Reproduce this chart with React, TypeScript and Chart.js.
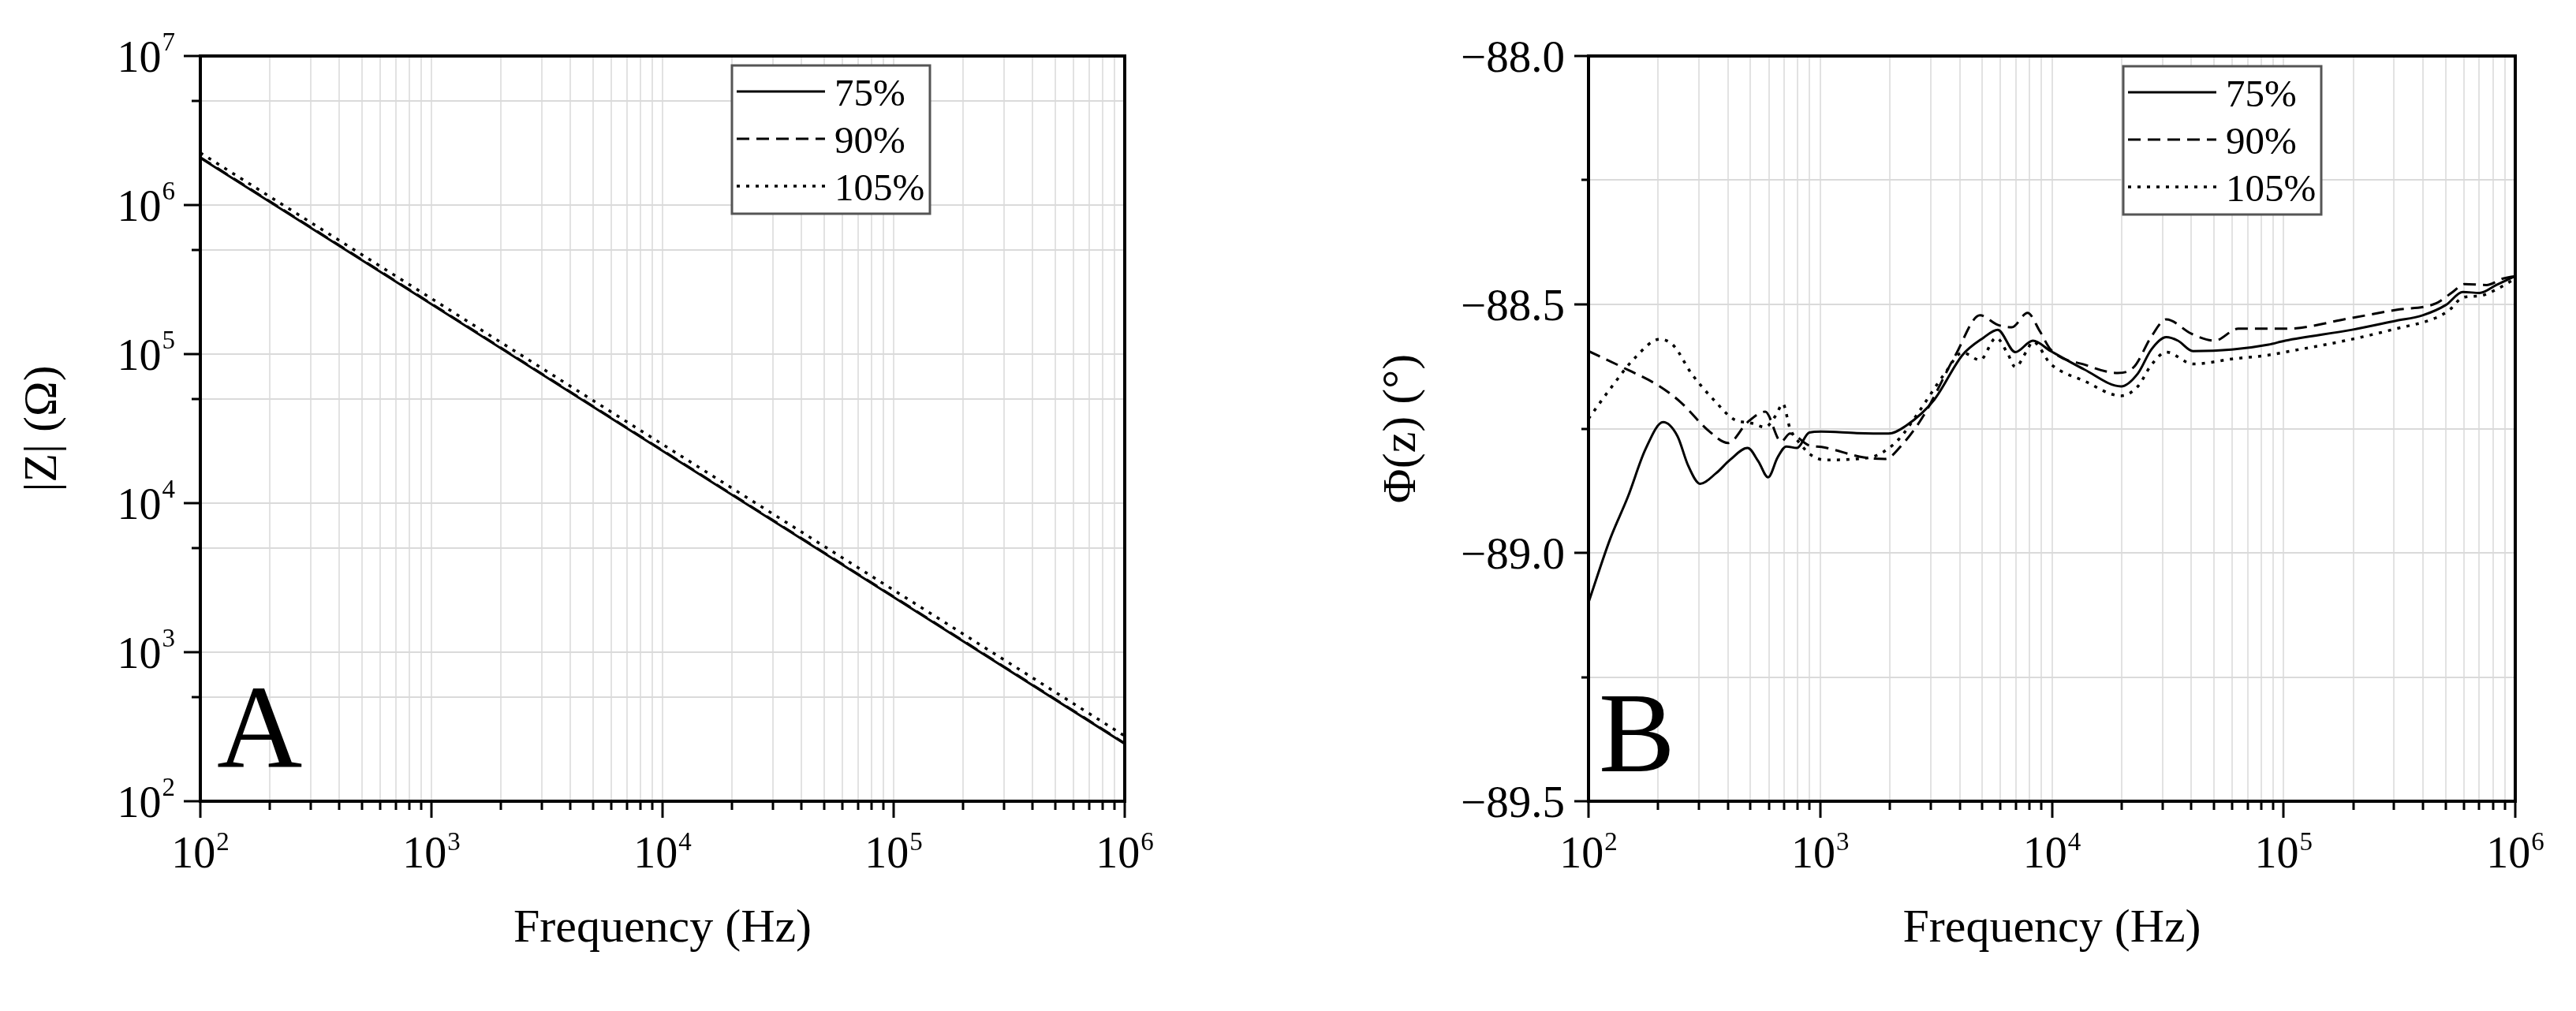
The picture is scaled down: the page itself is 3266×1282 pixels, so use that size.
import React, { useEffect, useRef } from "react";
import { Chart, registerables } from "chart.js";

Chart.register(...registerables);

const SERIF = "'Liberation Serif', 'Times New Roman', Times, serif";

// ---------------- Series labels ----------------
const SERIES_LABELS = ["75%", "90%", "105%"];

// ---------------- Panel A : |Z| vs frequency ----------------
const Z_FREQ = [100, 1000, 10000, 100000, 1000000];
const Z_75 = [2.07e6, 2.16e5, 2.24e4, 2.34e3, 243];
const Z_90 = [2.09e6, 2.18e5, 2.26e4, 2.36e3, 245];
const Z_105 = [2.24e6, 2.36e5, 2.48e4, 2.61e3, 274];

// ---------------- Panel B : phase vs frequency ----------------
const P75_FREQ = [100, 124, 148, 176, 210, 242, 269, 303, 355, 408, 486, 541, 596, 655, 714, 794, 897, 1014, 1439, 1972, 2350, 3105, 4111, 5070, 5834, 6950, 8279, 9886, 13800, 19910, 23500, 26850, 31190, 34990, 40640, 59700, 86100, 101600, 197700, 305500, 398100, 502300, 594300, 701500, 827900, 1000000];
const P75 = [-89.10, -88.972, -88.887, -88.792, -88.737, -88.765, -88.824, -88.861, -88.840, -88.813, -88.789, -88.816, -88.848, -88.808, -88.786, -88.789, -88.758, -88.756, -88.759, -88.760, -88.744, -88.692, -88.602, -88.567, -88.551, -88.596, -88.573, -88.594, -88.631, -88.665, -88.639, -88.591, -88.566, -88.573, -88.594, -88.591, -88.581, -88.573, -88.551, -88.533, -88.522, -88.501, -88.475, -88.477, -88.461, -88.443];

const P90_FREQ = [100, 138, 203, 250, 331, 401, 486, 579, 678, 741, 897, 1014, 1542, 1905, 2270, 2800, 3837, 4898, 5834, 6714, 7852, 8872, 9886, 14000, 19230, 22700, 26850, 31190, 40000, 50470, 63680, 101600, 197700, 305500, 455000, 537000, 604000, 750000, 885000, 1000000];
const P90 = [-88.594, -88.625, -88.665, -88.697, -88.755, -88.779, -88.737, -88.716, -88.776, -88.760, -88.784, -88.787, -88.808, -88.811, -88.781, -88.723, -88.602, -88.522, -88.541, -88.546, -88.517, -88.554, -88.591, -88.622, -88.638, -88.625, -88.565, -88.530, -88.559, -88.573, -88.549, -88.549, -88.527, -88.511, -88.498, -88.475, -88.459, -88.461, -88.448, -88.443];

const P105_FREQ = [100, 124, 159, 203, 233, 278, 355, 423, 504, 579, 644, 690, 740, 822, 912, 1050, 1439, 1774, 2188, 2606, 3451, 4111, 4898, 5754, 6457, 6950, 7762, 8279, 9886, 13800, 19910, 23500, 26850, 31190, 40640, 59700, 86100, 101600, 197700, 305500, 455000, 520000, 594300, 701500, 827900, 1000000];
const P105 = [-88.73, -88.670, -88.607, -88.570, -88.583, -88.639, -88.697, -88.731, -88.739, -88.747, -88.723, -88.700, -88.749, -88.781, -88.803, -88.813, -88.811, -88.803, -88.771, -88.723, -88.639, -88.597, -88.612, -88.567, -88.600, -88.626, -88.595, -88.575, -88.620, -88.654, -88.684, -88.665, -88.622, -88.596, -88.620, -88.610, -88.602, -88.596, -88.570, -88.549, -88.527, -88.511, -88.486, -88.483, -88.470, -88.448];

// ---------------- Axis ticks ----------------
const X_DECADES = [100, 1000, 10000, 100000, 1000000];
const X_EXPONENTS = ["2", "3", "4", "5", "6"];
const X_MULTIPLIERS = [1, 2, 3, 4, 5, 6, 7, 8, 9];
const Z_DECADES = [100, 1000, 10000, 100000, 1000000, 10000000];
const Z_EXPONENTS = ["2", "3", "4", "5", "6", "7"];
const Z_MULTIPLIERS = [1, 5];
const PHASE_MAJOR = [-88.0, -88.5, -89.0, -89.5];
const PHASE_LABELS = ["\u221288.0", "\u221288.5", "\u221289.0", "\u221289.5"];
const PHASE_MINOR = [-88.25, -88.75, -89.25];

// ---------------- Line styles ----------------
const LINE_DASHES = [[], [16, 9], [4, 8]];
const LINE_WIDTHS = [3, 3, 3.5];

const X_GRID = X_DECADES.flatMap((d) => X_MULTIPLIERS.map((m) => m * d)).filter((v) => v <= 1000000);
const Z_GRID = Z_DECADES.flatMap((d) => Z_MULTIPLIERS.map((m) => m * d)).filter((v) => v <= 10000000);

type Label = { value: number; main: string; sup?: string };

const X_LABELS: Label[] = X_DECADES.map((v, i) => ({ value: v, main: "10", sup: X_EXPONENTS[i] }));
const Z_LABELS: Label[] = Z_DECADES.map((v, i) => ({ value: v, main: "10", sup: Z_EXPONENTS[i] }));
const P_LABELS: Label[] = PHASE_MAJOR.map((v, i) => ({ value: v, main: PHASE_LABELS[i] }));

function near(arr: number[], v: number) {
  return arr.some((m) => Math.abs(m - v) < 1e-9 * Math.max(1, Math.abs(m)));
}

function makeDecor(o: any) {
  return {
    id: "decor",
    afterDraw(chart: any) {
      const ctx = chart.ctx;
      const a = chart.chartArea;
      const xs = chart.scales.x;
      const ys = chart.scales.y;
      ctx.save();
      ctx.strokeStyle = "#000";
      ctx.fillStyle = "#000";
      ctx.setLineDash([]);
      ctx.lineWidth = 3;
      for (const t of xs.ticks) {
        const px = Math.round(xs.getPixelForValue(t.value));
        const len = near(o.xMajor, t.value) ? 21 : 11;
        ctx.beginPath();
        ctx.moveTo(px, a.bottom);
        ctx.lineTo(px, a.bottom + len);
        ctx.stroke();
      }
      for (const t of ys.ticks) {
        const py = Math.round(ys.getPixelForValue(t.value));
        const len = near(o.yMajor, t.value) ? o.yMajorLen : o.yMinorLen;
        ctx.beginPath();
        ctx.moveTo(a.left, py);
        ctx.lineTo(a.left - len, py);
        ctx.stroke();
      }
      // frame
      ctx.lineWidth = 4;
      ctx.strokeRect(a.left, a.top, a.right - a.left, a.bottom - a.top);

      // x tick labels
      ctx.textBaseline = "alphabetic";
      for (const l of o.xLabels as Label[]) {
        const px = xs.getPixelForValue(l.value);
        ctx.font = `56px ${SERIF}`;
        const wm = ctx.measureText(l.main).width;
        ctx.font = `33px ${SERIF}`;
        const ws = l.sup ? ctx.measureText(l.sup).width + 1 : 0;
        const x0 = px - (wm + ws) / 2;
        ctx.textAlign = "left";
        ctx.font = `56px ${SERIF}`;
        ctx.fillText(l.main, x0, a.bottom + 84);
        if (l.sup) {
          ctx.font = `33px ${SERIF}`;
          ctx.fillText(l.sup, x0 + wm + 1, a.bottom + 62);
        }
      }
      // y tick labels
      for (const l of o.yLabels as Label[]) {
        const py = ys.getPixelForValue(l.value);
        const xr = a.left - o.yLabelGap;
        ctx.textAlign = "right";
        if (l.sup) {
          ctx.font = `33px ${SERIF}`;
          const ws = ctx.measureText(l.sup).width;
          ctx.fillText(l.sup, xr, py - 7);
          ctx.font = `${o.yFont}px ${SERIF}`;
          ctx.fillText(l.main, xr - ws - 1, py + 20);
        } else {
          ctx.font = `${o.yFont}px ${SERIF}`;
          ctx.fillText(l.main, xr, py + 20);
        }
      }
      // panel letter
      ctx.textAlign = "left";
      ctx.font = `${o.letterSize}px ${SERIF}`;
      ctx.fillText(o.letter, a.left + o.letterDx, a.bottom - o.letterDy);

      // legend
      const bx = a.left + o.legendDx;
      const by = a.top + o.legendDy;
      const bw = 251;
      const bh = 188;
      ctx.fillStyle = "#fff";
      ctx.fillRect(bx, by, bw, bh);
      ctx.strokeStyle = "#555";
      ctx.lineWidth = 3;
      ctx.strokeRect(bx, by, bw, bh);
      chart.data.datasets.forEach((ds: any, i: number) => {
        const ly = by + 33 + i * 60;
        ctx.strokeStyle = "#000";
        ctx.lineWidth = ds.borderWidth;
        ctx.setLineDash(ds.borderDash || []);
        ctx.beginPath();
        ctx.moveTo(bx + 6, ly);
        ctx.lineTo(bx + 118, ly);
        ctx.stroke();
        ctx.setLineDash([]);
        ctx.fillStyle = "#000";
        ctx.font = `49px ${SERIF}`;
        ctx.textAlign = "left";
        ctx.fillText(ds.label, bx + 130, by + 51 + i * 60);
      });
      ctx.restore();
    },
  };
}

function series(freq: number[], vals: number[], i: number, smooth: boolean) {
  return {
    label: SERIES_LABELS[i],
    data: freq.map((f, k) => ({ x: f, y: vals[k] })),
    borderColor: "#000",
    backgroundColor: "#000",
    borderWidth: LINE_WIDTHS[i],
    borderDash: LINE_DASHES[i],
    borderCapStyle: "butt",
    pointRadius: 0,
    fill: false,
    tension: smooth ? 0.4 : 0,
    cubicInterpolationMode: smooth ? "monotone" : "default",
  };
}

function xScale() {
  return {
    type: "logarithmic",
    position: "bottom",
    min: 100,
    max: 1000000,
    afterBuildTicks: (s: any) => {
      s.ticks = X_GRID.map((v) => ({ value: v }));
    },
    afterFit: (s: any) => {
      s.height = 266;
    },
    ticks: { display: false },
    grid: { color: "#e2e2e2", lineWidth: 2, drawTicks: false },
    border: { display: false },
    title: {
      display: true,
      text: "Frequency (Hz)",
      color: "#000",
      font: { family: SERIF, size: 60 },
      padding: { top: 0, bottom: 68 },
    },
  };
}

function configA(): any {
  return {
    type: "line",
    data: {
      datasets: [
        series(Z_FREQ, Z_75, 0, false),
        series(Z_FREQ, Z_90, 1, false),
        series(Z_FREQ, Z_105, 2, false),
      ],
    },
    options: {
      responsive: false,
      animation: false,
      devicePixelRatio: 1,
      events: [],
      layout: { autoPadding: false, padding: { left: 0, top: 71, right: 207, bottom: 0 } },
      plugins: { legend: { display: false }, tooltip: { enabled: false }, title: { display: false } },
      scales: {
        x: xScale(),
        y: {
          type: "logarithmic",
          position: "left",
          min: 100,
          max: 10000000,
          afterBuildTicks: (s: any) => {
            s.ticks = Z_GRID.map((v) => ({ value: v }));
          },
          afterFit: (s: any) => {
            s.width = 254;
          },
          ticks: { display: false },
          grid: { color: "#dadada", lineWidth: 2, drawTicks: false },
          border: { display: false },
          title: {
            display: true,
            text: "|Z| (\u03A9)",
            color: "#000",
            font: { family: SERIF, size: 60 },
            padding: { top: 19, bottom: 0 },
          },
        },
      },
    },
    plugins: [
      makeDecor({
        xMajor: X_DECADES,
        yMajor: Z_DECADES,
        xLabels: X_LABELS,
        yLabels: Z_LABELS,
        yMajorLen: 21,
        yMinorLen: 11,
        yLabelGap: 32,
        yFont: 56,
        letter: "A",
        letterSize: 150,
        letterDx: 21,
        letterDy: 44,
        legendDx: 674,
        legendDy: 12,
      }),
    ],
  };
}

function configB(): any {
  return {
    type: "line",
    data: {
      datasets: [
        series(P75_FREQ, P75, 0, true),
        series(P90_FREQ, P90, 1, true),
        series(P105_FREQ, P105, 2, true),
      ],
    },
    options: {
      responsive: false,
      animation: false,
      devicePixelRatio: 1,
      events: [],
      layout: { autoPadding: false, padding: { left: 0, top: 71, right: 77, bottom: 0 } },
      plugins: { legend: { display: false }, tooltip: { enabled: false }, title: { display: false } },
      scales: {
        x: xScale(),
        y: {
          type: "linear",
          position: "left",
          min: -89.5,
          max: -88.0,
          afterBuildTicks: (s: any) => {
            s.ticks = [...PHASE_MAJOR, ...PHASE_MINOR].sort((p, q) => p - q).map((v) => ({ value: v }));
          },
          afterFit: (s: any) => {
            s.width = 381;
          },
          ticks: { display: false },
          grid: { color: "#dadada", lineWidth: 2, drawTicks: false },
          border: { display: false },
          title: {
            display: true,
            text: "\u03A6(z) (\u00B0)",
            color: "#000",
            font: { family: SERIF, size: 60 },
            padding: { top: 109, bottom: 0 },
          },
        },
      },
    },
    plugins: [
      makeDecor({
        xMajor: X_DECADES,
        yMajor: PHASE_MAJOR,
        xLabels: X_LABELS,
        yLabels: P_LABELS,
        yMajorLen: 18,
        yMinorLen: 9,
        yLabelGap: 30,
        yFont: 57,
        letter: "B",
        letterSize: 145,
        letterDx: 13,
        letterDy: 38,
        legendDx: 678,
        legendDy: 13,
      }),
    ],
  };
}

function Panel({ left, width, build }: { left: number; width: number; build: () => any }) {
  const ref = useRef<HTMLCanvasElement>(null);
  useEffect(() => {
    const chart = new Chart(ref.current as HTMLCanvasElement, build());
    return () => chart.destroy();
  }, []);
  return (
    <canvas
      ref={ref}
      width={width}
      height={1282}
      style={{ position: "absolute", left, top: 0, width, height: 1282, display: "block" }}
    />
  );
}

export default function App() {
  return (
    <div
      style={{
        position: "absolute",
        left: 0,
        top: 0,
        width: 3266,
        height: 1282,
        background: "#fff",
        overflow: "hidden",
      }}
    >
      <Panel left={0} width={1633} build={configA} />
      <Panel left={1633} width={1633} build={configB} />
    </div>
  );
}
